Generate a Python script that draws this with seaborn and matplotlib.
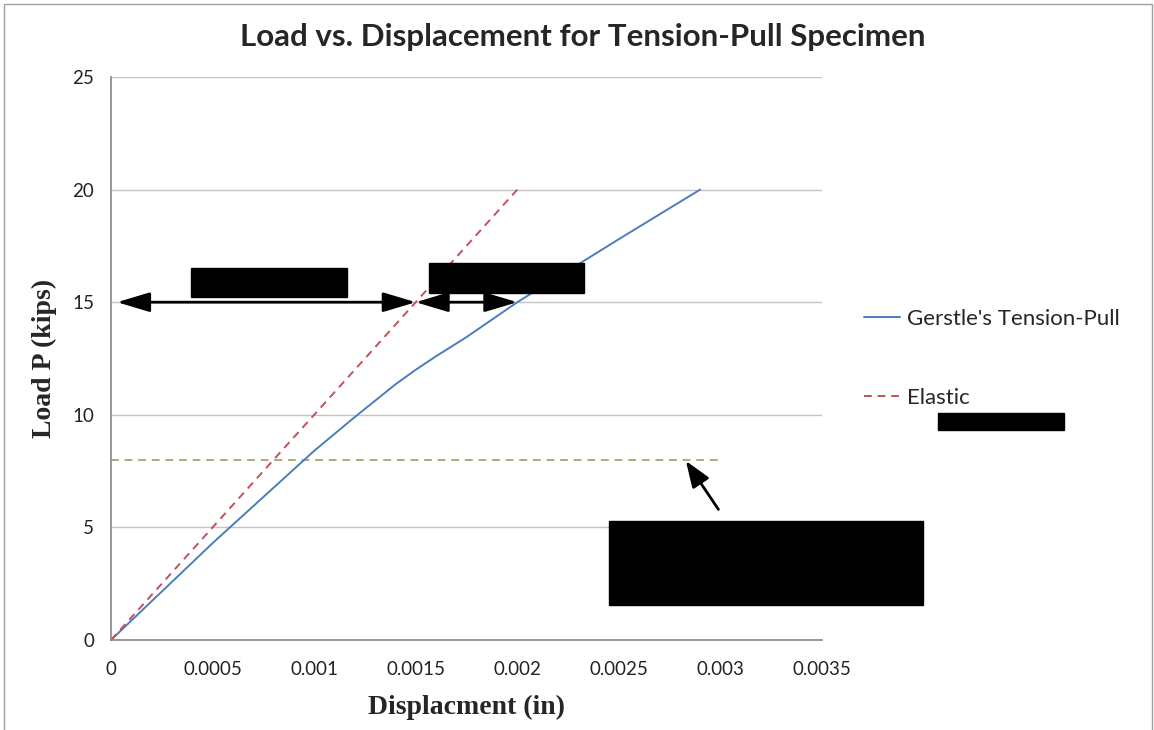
import numpy as np
import pandas as pd
import matplotlib
matplotlib.use("Agg")
import matplotlib.pyplot as plt
import seaborn as sns
from matplotlib.patches import Rectangle

# data
gerstle_disp = [0, 0.0005, 0.001, 0.0012, 0.0014, 0.0015, 0.0016, 0.00175, 0.002, 0.0025, 0.0029]
gerstle_load = [0, 4.3, 8.4, 9.9, 11.35, 12.0, 12.6, 13.45, 15.0, 17.8, 20.0]
elastic_disp = [0, 0.002]
elastic_load = [0, 20]
limit_disp = [0, 0.003]
limit_load = [8, 8]

x_ticks = [0, 0.0005, 0.001, 0.0015, 0.002, 0.0025, 0.003, 0.0035]
x_tick_labels = ["0", "0.0005", "0.001", "0.0015", "0.002", "0.0025", "0.003", "0.0035"]
y_ticks = [0, 5, 10, 15, 20, 25]

W, H = 1154, 730


def build_frame():
    """Stack the two legend series into one long table for seaborn."""
    a = pd.DataFrame({"disp": gerstle_disp, "load": gerstle_load,
                      "series": "Gerstle's Tension-Pull"})
    b = pd.DataFrame({"disp": elastic_disp, "load": elastic_load,
                      "series": "Elastic"})
    return pd.concat([a, b], ignore_index=True)


sns.set_style("white")
plt.rcParams["font.family"] = ["Lato", "DejaVu Sans"]

fig = plt.figure(figsize=(W / 100, H / 100), dpi=100)
ax = fig.add_axes([111 / W, 1 - 640 / H, (822 - 111) / W, (640 - 77) / H])

df = build_frame()
sns.lineplot(data=df, x="disp", y="load", hue="series", style="series",
             palette={"Gerstle's Tension-Pull": "#4a7ebb", "Elastic": "#c4505a"},
             dashes={"Gerstle's Tension-Pull": "", "Elastic": (4, 3)},
             linewidth=1.4, sort=False, ax=ax, legend=True)

# 8 kip reference line (no legend entry)
ax.plot(limit_disp, limit_load, color="#a9ad7a", lw=1.4, ls=(0, (4, 3)), zorder=1)

ax.set_xlim(0, 0.0035)
ax.set_ylim(0, 25)
ax.set_xticks(x_ticks)
ax.set_xticklabels(x_tick_labels)
ax.set_yticks(y_ticks)
ax.tick_params(axis="both", labelsize=13.5, colors="#222222", length=5,
               width=1, direction="out", pad=7)
ax.tick_params(axis="x", pad=10)
ax.tick_params(axis="both", color="#868686")
ax.yaxis.grid(True, color="#c4c4c4", lw=1)
ax.xaxis.grid(False)
for side in ["top", "right"]:
    ax.spines[side].set_visible(False)
for side in ["left", "bottom"]:
    ax.spines[side].set_color("#868686")
    ax.spines[side].set_linewidth(1.2)

ax.set_xlabel("Displacment (in)", family="Liberation Serif", fontweight="bold",
              fontsize=20, labelpad=12)
ax.set_ylabel("Load P (kips)", family="Liberation Serif", fontweight="bold",
              fontsize=20, labelpad=11)
fig.suptitle("Load vs. Displacement for Tension-Pull Specimen", x=0.505,
             y=1 - 37 / H, va="center", fontsize=22.5, fontweight="bold")

handles, labels = ax.get_legend_handles_labels()
ax.legend(handles, labels, loc="upper left", frameon=False, fontsize=16,
          bbox_to_anchor=(853 / W, 1 - 298 / H), bbox_transform=fig.transFigure,
          handlelength=1.6, handletextpad=0.32, labelspacing=2.65, borderpad=0)

# dimension arrows at 15 kips
dbl = dict(arrowstyle="<|-|>,head_length=2.0,head_width=0.6", color="black",
           lw=2, mutation_scale=10, shrinkA=0, shrinkB=0)
ax.annotate("", xy=(0.00003, 15), xytext=(0.0015, 15), arrowprops=dbl, zorder=5)
ax.annotate("", xy=(0.0015, 15), xytext=(0.002, 15), arrowprops=dbl, zorder=5)
ax.annotate("", xy=(0.00283, 7.95), xytext=(0.00299, 5.8),
            arrowprops=dict(arrowstyle="-|>,head_length=1.6,head_width=0.6",
                            color="black", lw=2, mutation_scale=10,
                            shrinkA=0, shrinkB=0), zorder=5)

# redacted label boxes (figure pixels: x0, y0, x1, y1)
redactions = [(191, 268, 347, 297), (429, 263, 584, 293),
              (938, 413, 1064, 430), (609, 521, 923, 605)]
for x0, y0, x1, y1 in redactions:
    fig.patches.append(Rectangle((x0 / W, 1 - y1 / H), (x1 - x0) / W, (y1 - y0) / H,
                                 transform=fig.transFigure, color="black", zorder=10))

# thin chart border
fig.patches.append(Rectangle((4 / W, -0.01), (W - 6) / W, 1 - 4 / H + 0.01,
                             transform=fig.transFigure, fill=False,
                             edgecolor="#a0a0a0", lw=1))

fig.savefig("out.png", dpi=100)
